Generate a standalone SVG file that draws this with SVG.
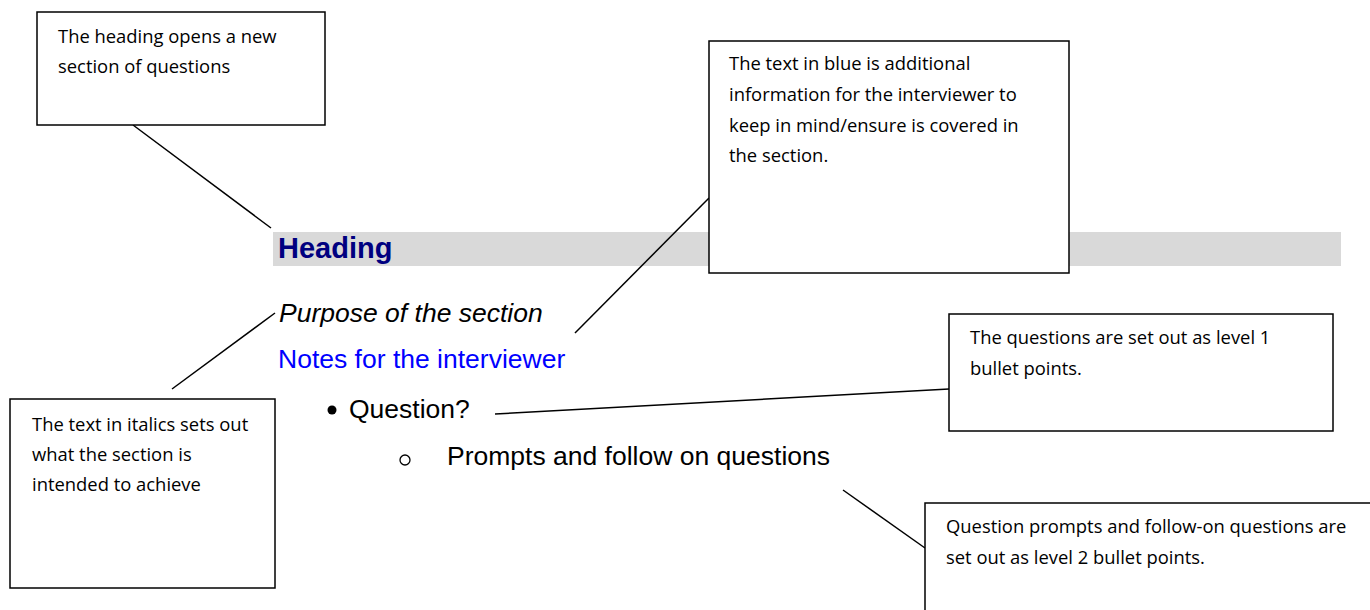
<svg xmlns="http://www.w3.org/2000/svg" width="1370" height="610" viewBox="0 0 1370 610">
<style>
.box{fill:#fff;stroke:#000;stroke-width:1.5}
.call{font-family:"Open Sans","Noto Sans",sans-serif;font-size:18.4px;fill:#000}
.body{font-family:"Liberation Sans",Arial,sans-serif;font-size:26.5px}
.conn line{stroke:#000;stroke-width:1.5}
</style>
<rect width="1370" height="610" fill="#fff"/>
<g id="content">
<rect x="273" y="232" width="1068" height="34" fill="#d9d9d9"/>
<text x="278" y="258" font-family="Liberation Sans,Arial,sans-serif" font-size="29" font-weight="bold" fill="#000080">Heading</text>
<text class="body" x="279" y="322" font-style="italic" fill="#000">Purpose of the section</text>
<text class="body" x="278" y="368" fill="#0000ff">Notes for the interviewer</text>
<circle cx="332" cy="410" r="4.5" fill="#000"/>
<text class="body" x="349" y="418" font-size="25" fill="#000">Question?</text>
<circle cx="405" cy="460" r="5" fill="none" stroke="#000" stroke-width="1.3"/>
<text class="body" x="447" y="465" fill="#000">Prompts and follow on questions</text>
</g>
<g class="conn" id="connectors">
<line x1="133" y1="125" x2="271" y2="228"/>
<line x1="575" y1="333" x2="709" y2="198"/>
<line x1="172" y1="389" x2="275" y2="313"/>
<line x1="495" y1="414" x2="949" y2="389"/>
<line x1="843" y1="490" x2="925" y2="548"/>
</g>
<g id="box-heading">
<rect class="box" x="37" y="12" width="288" height="113"/>
<text class="call" x="58" y="43">The heading opens a new</text>
<text class="call" x="58" y="73">section of questions</text>
</g>
<g id="box-blue">
<rect class="box" x="709" y="41" width="360" height="232"/>
<text class="call" x="729" y="70">The text in blue is additional</text>
<text class="call" x="729" y="101">information for the interviewer to</text>
<text class="call" x="729" y="132">keep in mind/ensure is covered in</text>
<text class="call" x="729" y="162">the section.</text>
</g>
<g id="box-questions">
<rect class="box" x="949" y="314" width="384" height="117"/>
<text class="call" x="970" y="344">The questions are set out as level 1</text>
<text class="call" x="970" y="375">bullet points.</text>
</g>
<g id="box-italics">
<rect class="box" x="10" y="399" width="265" height="189"/>
<text class="call" x="32" y="431">The text in italics sets out</text>
<text class="call" x="32" y="461">what the section is</text>
<text class="call" x="32" y="491">intended to achieve</text>
</g>
<g id="box-prompts">
<rect class="box" x="925" y="503" width="460" height="120"/>
<text class="call" x="946" y="533">Question prompts and follow-on questions are</text>
<text class="call" x="946" y="564">set out as level 2 bullet points.</text>
</g>
</svg>
